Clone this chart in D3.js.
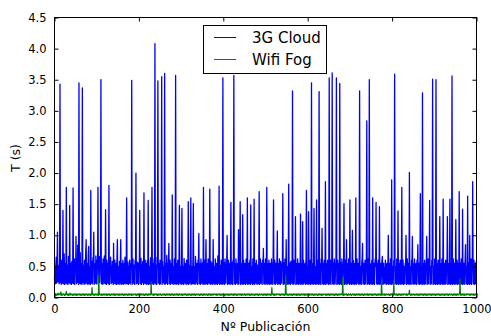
<!DOCTYPE html>
<html><head><meta charset="utf-8">
<script src="https://cdn.jsdelivr.net/npm/d3@7"></script>
<style>body{margin:0;background:#fff}text{font-family:"DejaVu Sans",sans-serif;fill:#000}</style>
</head><body><svg id="c" width="491" height="336"></svg>
<script>
// Series values in hundredths of a second, one per publication index 0..999
const cloud3G = [
28,50,22,48,65,23,50,105,25,52, 47,22,55,343,24,50,21,60,48,23, 140,22,50,70,21,55,48,23,177,22, 52,47,21,66,50,24,148,22,55,45,
21,58,50,23,176,22,48,62,21,52, 45,98,22,55,24,84,50,21,345,23, 50,72,22,48,55,21,337,24,52,47, 21,60,50,22,74,93,23,55,48,21,
67,82,22,50,45,21,172,23,58,48, 22,64,50,105,21,55,48,23,67,50, 22,60,47,177,21,52,66,24,50,45, 350,22,55,48,21,62,50,23,67,48,
22,141,50,21,60,47,23,55,22,180, 21,52,48,65,22,50,24,58,46,21, 87,23,50,60,22,48,55,21,62,93, 22,50,47,21,58,23,50,93,21,55,
48,22,60,50,21,55,23,65,48,22, 50,160,22,48,57,21,50,23,60,47, 22,55,48,349,21,50,62,23,45,52, 21,60,48,200,22,50,23,57,46,21,
55,50,140,22,48,63,21,52,24,58, 47,21,168,23,50,60,22,48,55,21, 60,23,156,21,50,47,22,56,64,21, 50,177,22,48,55,21,62,24,408,22,
52,47,21,65,50,348,23,55,48,21, 60,22,50,47,355,21,58,24,50,46, 22,360,21,55,48,23,68,50,21,55, 47,87,22,50,60,21,48,55,23,165,
22,50,47,21,62,50,23,357,21,55, 48,22,60,50,21,55,148,23,48,50, 21,58,143,22,50,47,21,63,50,23, 55,48,21,60,50,22,48,154,21,52,
47,23,58,160,21,50,48,22,60,151, 22,50,47,21,66,50,23,55,48,21, 60,50,103,22,48,55,21,62,47,23, 50,56,21,177,22,48,60,21,50,93,
22,55,48,21,62,50,23,47,174,21, 50,58,22,48,55,21,93,23,50,47, 21,62,50,22,55,48,21,67,50,23, 179,21,52,47,22,60,50,21,55,353,
22,48,56,21,62,50,23,47,55,100, 21,50,60,22,48,55,21,50,153,22, 48,56,21,60,50,357,22,55,47,21, 62,50,23,48,55,21,109,22,50,60,
154,21,48,55,22,50,133,21,60,47, 22,55,50,21,62,48,23,160,21,50, 55,22,48,60,21,149,23,50,47,21, 62,50,22,158,21,55,48,23,60,50,
21,52,47,22,58,170,21,50,62,23, 48,55,21,60,50,79,22,48,55,21, 62,50,23,177,21,55,47,22,60,50, 21,55,48,22,62,50,21,48,56,157,
22,50,60,21,48,55,23,50,107,21, 55,47,22,62,50,21,58,48,23,55, 50,167,21,48,56,22,62,50,21,93, 22,50,47,21,60,182,22,48,55,21,
58,50,23,48,332,21,55,60,22,50, 47,130,21,55,48,22,62,50,21,55, 50,22,48,134,21,55,47,22,122,21, 60,50,23,48,55,21,62,172,22,50,
47,21,138,55,22,48,60,21,50,345, 22,55,48,21,60,143,22,50,47,21, 55,157,22,48,60,21,50,331,22,55, 47,21,62,50,111,22,48,55,21,60,
50,22,186,21,48,55,23,60,50,21, 55,353,22,48,60,21,50,47,361,22, 50,55,21,62,48,22,50,57,353,21, 48,60,22,50,55,21,344,22,48,56,
21,62,50,22,47,55,151,21,50,60, 22,48,93,21,55,50,23,62,47,21, 157,22,50,55,21,48,108,22,60,50, 21,55,47,22,160,21,50,62,23,48,
55,21,60,332,22,50,47,21,56,62, 87,22,48,55,21,50,60,22,47,55, 284,21,50,62,22,48,350,21,55,50, 22,47,60,21,160,22,50,55,21,48,
62,50,153,22,48,55,21,60,47,22, 146,21,50,55,22,48,60,66,21,50, 55,22,48,23,60,50,21,47,55,22, 50,100,21,55,48,22,62,50,21,189,
22,50,47,21,60,55,359,22,48,50, 21,62,50,22,139,21,55,48,22,60, 50,21,48,177,22,55,60,21,50,47, 22,55,50,100,21,48,62,22,50,55,
21,201,22,50,47,21,60,55,98,22, 48,55,21,62,50,22,47,55,21,60, 50,85,22,48,55,21,62,167,22,50, 47,21,329,22,55,48,21,60,50,22,
55,48,98,21,50,62,22,48,55,156, 21,50,47,22,60,55,351,21,48,50, 22,62,50,21,350,22,48,55,21,60, 50,22,47,130,21,55,48,22,62,50,
21,158,22,50,55,21,48,60,22,50, 47,130,21,55,48,22,60,158,21,50, 55,22,356,21,48,62,22,50,55,21, 48,125,22,50,60,21,55,47,22,170,
21,50,55,22,62,48,21,142,22,50, 55,21,48,60,85,22,50,47,21,163, 22,50,55,21,100,22,48,62,21,50, 47,186,22,50,60,21,48,55,22,58
];
// 20 rows x 50 values = indices 0..999
const wifiFog = [
5,4,6,5,3,5,6,4,5,7, 4,5,6,5,4,9,5,3,6,5, 4,6,5,5,3,6,4,5,10,5, 6,4,5,3,6,5,4,7,5,4, 5,6,4,5,3,5,6,4,5,6,
4,5,3,6,5,4,6,5,4,5, 6,4,5,3,5,6,4,5,6,4, 5,3,6,5,4,5,6,4,5,3, 6,5,4,5,6,3,5,4,6,16, 5,4,6,5,3,5,4,6,5,4,
5,6,4,5,3,35,5,6,4,5, 4,6,5,3,5,4,6,5,4,6, 5,4,5,6,3,5,4,6,5,4, 6,5,3,5,4,6,5,4,5,6, 4,5,6,3,5,4,6,5,4,5,
6,4,5,3,6,5,4,5,6,4, 5,6,4,5,3,5,6,4,5,4, 6,5,4,5,3,6,5,4,6,5, 4,5,6,3,5,4,6,5,4,5, 5,6,4,5,3,5,6,4,5,6,
4,5,3,6,5,4,6,5,4,5, 6,4,5,3,5,6,4,5,6,4, 5,3,6,5,4,5,6,4,5,25, 6,5,4,5,6,3,5,4,6,5, 5,4,6,5,3,5,4,6,5,4,
5,6,4,5,3,5,5,6,4,5, 4,6,5,3,5,4,6,5,4,6, 5,4,5,6,3,5,4,6,5,4, 6,5,3,5,4,6,5,4,5,6, 4,5,6,3,5,4,6,5,4,5,
6,4,5,3,6,5,4,5,6,4, 5,6,4,5,3,5,6,4,5,4, 6,5,4,5,3,6,5,4,6,5, 4,5,6,3,5,4,6,5,4,5, 5,6,4,5,3,5,6,4,5,6,
4,5,3,6,5,4,6,5,4,5, 6,4,5,3,5,6,4,5,6,4, 5,3,6,5,4,5,6,4,5,5, 6,5,4,5,6,3,5,4,6,5, 5,4,6,5,3,5,4,6,5,4,
5,6,4,5,3,5,5,6,4,5, 4,6,5,3,5,4,6,5,4,6, 5,4,5,6,3,5,4,6,5,4, 6,5,3,5,4,6,5,4,5,6, 4,5,6,3,5,4,6,5,4,5,
6,4,5,3,6,5,4,5,6,4, 5,6,4,5,3,5,6,4,5,4, 6,5,4,5,3,6,5,4,6,5, 4,5,6,3,5,4,6,5,4,5, 5,6,4,5,3,5,6,4,5,6,
4,5,3,6,5,4,6,5,4,5, 6,4,5,3,5,16,6,5,4,6, 5,3,6,5,4,5,6,4,5,5, 6,5,4,5,6,3,5,4,6,5, 5,4,6,5,3,5,4,6,36,4,
5,6,4,5,3,5,5,6,4,5, 4,6,5,3,5,4,6,5,4,6, 5,4,5,6,3,5,4,6,5,4, 6,5,3,5,4,6,5,4,5,6, 4,5,6,3,5,4,6,5,4,5,
6,4,5,3,6,5,4,5,6,4, 5,6,4,5,3,5,6,4,5,4, 6,5,4,5,3,6,5,4,6,5, 4,5,6,3,5,4,6,5,4,5, 5,6,4,5,3,5,6,4,5,6,
4,5,3,6,5,4,6,5,4,5, 6,4,5,3,5,6,4,5,6,4, 5,3,6,5,4,5,6,4,5,5, 6,5,4,32,6,3,5,4,6,5, 5,4,6,5,3,5,4,6,5,4,
5,6,4,5,3,5,5,6,4,5, 4,6,5,3,5,4,6,5,4,6, 5,4,5,6,3,5,4,6,5,4, 6,5,3,5,4,6,5,4,5,6, 4,5,6,3,5,4,6,5,4,5,
6,4,5,3,6,5,4,5,6,4, 5,6,4,5,3,5,6,4,5,4, 6,5,4,5,3,28,5,4,6,5, 4,5,6,3,5,4,6,5,4,5, 5,6,4,5,3,5,6,4,5,6,
4,5,3,6,27,4,6,5,4,5, 6,4,5,3,5,6,4,5,6,4, 5,3,6,5,4,5,6,4,5,5, 6,5,4,5,6,3,5,4,6,5, 5,12,6,5,3,5,4,6,5,4,
5,6,4,5,3,5,5,6,4,5, 4,6,5,3,5,4,6,5,4,6, 5,4,5,6,3,5,4,6,5,4, 6,5,3,5,4,6,5,4,5,6, 4,5,6,3,5,4,6,5,4,5,
6,4,5,3,6,5,4,5,6,4, 5,6,4,5,3,5,6,4,5,4, 6,5,4,5,3,6,5,4,6,5, 4,5,6,3,5,4,6,5,4,5, 5,6,4,5,3,5,6,4,5,6,
4,5,3,6,5,4,6,5,4,5, 6,30,5,3,5,6,4,5,6,4, 5,3,6,5,4,5,6,4,5,5, 6,5,4,5,6,3,5,4,6,5, 5,4,6,5,3,5,4,6,5,4
];
const seriesNames = ["3G Cloud", "Wifi Fog"];
const seriesColors = ["#0000ff", "#008000"];
const xTicks = [0, 200, 400, 600, 800, 1000];
const yTicks = [0.0, 0.5, 1.0, 1.5, 2.0, 2.5, 3.0, 3.5, 4.0, 4.5];

const svg = d3.select("#c");
const L = 54.5, R = 476.5, T = 17.5, B = 297.5;
const x = d3.scaleLinear().domain([0, 1000]).range([L, R]);
const y = d3.scaleLinear().domain([0, 4.5]).range([B, T]);

const g = svg.append("g");
const series = [cloud3G, wifiFog];
const widths = [1.3, 1.2];
const line = d3.line().x((d, i) => x(i)).y(d => y(d / 100));
series.forEach((s, k) => {
  g.append("path").datum(s).attr("d", line).attr("fill", "none")
    .attr("stroke", seriesColors[k]).attr("stroke-width", widths[k]).attr("stroke-linejoin", "round");
});

// axes (classic matplotlib: inward ticks on all four sides)
const tk = 4;
const ax = svg.append("g");
ax.append("g").attr("transform", `translate(0,${B})`)
  .call(d3.axisBottom(x).tickValues(xTicks).tickSize(-tk).tickPadding(7).tickFormat(d3.format("d")));
ax.append("g").attr("transform", `translate(0,${T})`)
  .call(d3.axisTop(x).tickValues(xTicks).tickSize(-tk).tickFormat(""));
ax.append("g").attr("transform", `translate(${L},0)`)
  .call(d3.axisLeft(y).tickValues(yTicks).tickSize(-tk).tickPadding(8).tickFormat(d3.format(".1f")));
ax.append("g").attr("transform", `translate(${R},0)`)
  .call(d3.axisRight(y).tickValues(yTicks).tickSize(-tk).tickFormat(""));
ax.selectAll(".domain").remove();
ax.selectAll(".tick line").attr("stroke", "#000").attr("stroke-width", 1);
ax.selectAll(".tick text").attr("font-size", "11.5px").attr("fill", "#000")
  .style("font-family", "DejaVu Sans");
svg.append("rect").attr("x", L).attr("y", T).attr("width", R - L).attr("height", B - T)
  .attr("fill", "none").attr("stroke", "#000").attr("stroke-width", 1);

// axis labels
svg.append("text").attr("x", (L + R) / 2).attr("y", 331).attr("text-anchor", "middle")
  .attr("font-size", "12.5px").text("Nº Publicación");
svg.append("text").attr("transform", "translate(20,158) rotate(-90)").attr("text-anchor", "middle")
  .attr("font-size", "12.5px").text("T (s)");

// legend
const lg = svg.append("g");
lg.append("rect").attr("x", 203.5).attr("y", 25.5).attr("width", 123).attr("height", 48)
  .attr("fill", "#fff").attr("stroke", "#000").attr("stroke-width", 1);
seriesNames.forEach((n, k) => {
  const yy = 37.5 + k * 22;
  lg.append("line").attr("x1", 214).attr("x2", 236).attr("y1", yy).attr("y2", yy)
    .attr("stroke", seriesColors[k]).attr("stroke-width", 1);
  lg.append("text").attr("x", 252).attr("y", yy + 5.5).attr("font-size", "15px").text(n);
});
</script></body></html>
